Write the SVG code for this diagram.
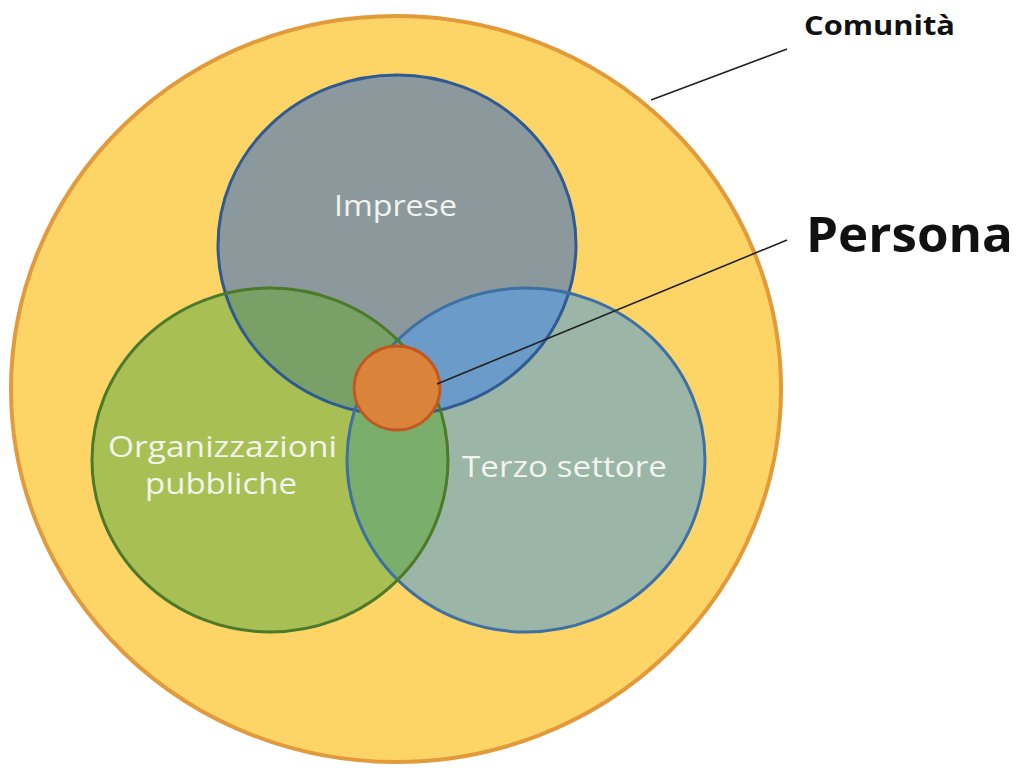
<svg xmlns="http://www.w3.org/2000/svg" width="1021" height="768" viewBox="0 0 1021 768">
  <style>
    .lbl { font-family: "Open Sans", "Lato", sans-serif; font-size: 29px; fill: #f2f4ee; }
    .ext { font-family: "Open Sans", "Lato", sans-serif; font-weight: bold; fill: #111; }
    .lead { stroke: #222; stroke-width: 1.6; fill: none; }
  </style>
  <defs>
    <clipPath id="clipImprese"><ellipse cx="397" cy="245" rx="179" ry="170"/></clipPath>
    <clipPath id="clipPubbliche"><ellipse cx="270" cy="460" rx="178" ry="172"/></clipPath>
  </defs>

  <g id="comunita">
    <ellipse cx="396" cy="389" rx="385" ry="373" fill="#fdd567" stroke="#e39a3a" stroke-width="4"/>
  </g>

  <g id="imprese">
    <ellipse cx="397" cy="245" rx="179" ry="170" fill="#8c999c"/>
  </g>
  <g id="organizzazioni-pubbliche">
    <ellipse cx="270" cy="460" rx="178" ry="172" fill="#a8c053"/>
  </g>
  <g id="terzo-settore">
    <ellipse cx="526" cy="460" rx="179" ry="172" fill="#9bb6a6"/>
  </g>

  <!-- overlap tints -->
  <g id="overlaps">
    <ellipse cx="270" cy="460" rx="178" ry="172" fill="#79a167" clip-path="url(#clipImprese)"/>
    <ellipse cx="526" cy="460" rx="179" ry="172" fill="#6a9bc9" clip-path="url(#clipImprese)"/>
    <ellipse cx="526" cy="460" rx="179" ry="172" fill="#7aae6b" clip-path="url(#clipPubbliche)"/>
  </g>

  <!-- outlines on top -->
  <g id="outlines" fill="none" stroke-width="3">
    <ellipse cx="397" cy="245" rx="179" ry="170" stroke="#2f5a94"/>
    <ellipse cx="526" cy="460" rx="179" ry="172" stroke="#3f70a4"/>
    <ellipse cx="270" cy="460" rx="178" ry="172" stroke="#4a7a2a"/>
  </g>

  <g id="persona">
    <ellipse cx="397" cy="388" rx="43" ry="42" fill="#d9843a" stroke="#c2571f" stroke-width="3"/>
  </g>

  <g id="connectors">
    <line class="lead" x1="651" y1="100" x2="787" y2="49"/>
    <line class="lead" x1="437" y1="384" x2="787" y2="240"/>
  </g>

  <g id="labels">
    <text class="lbl" x="334" y="216" textLength="123" lengthAdjust="spacingAndGlyphs">Imprese</text>
    <text class="lbl" x="108" y="457" textLength="229" lengthAdjust="spacingAndGlyphs">Organizzazioni</text>
    <text class="lbl" x="145" y="494" textLength="152" lengthAdjust="spacingAndGlyphs">pubbliche</text>
    <text class="lbl" x="462" y="477" textLength="205" lengthAdjust="spacingAndGlyphs">Terzo settore</text>
    <text class="ext" x="804" y="35" font-size="26" textLength="151" lengthAdjust="spacingAndGlyphs">Comunità</text>
    <text class="ext" x="806" y="252" font-size="48" textLength="207" lengthAdjust="spacingAndGlyphs">Persona</text>
  </g>
</svg>
